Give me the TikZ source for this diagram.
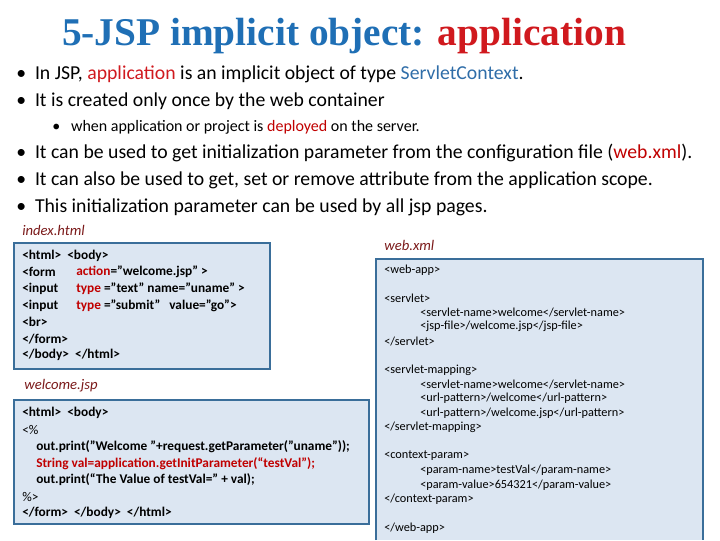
\documentclass[tikz,border=0pt]{standalone}
\usepackage{fontspec}
\setmainfont{Carlito}
\newfontfamily\titlefont{Liberation Serif}
\definecolor{tblue}{HTML}{1F6FB5}
\definecolor{tred}{HTML}{D0191E}
\definecolor{kred}{HTML}{C00000}
\definecolor{fname}{HTML}{7B1A1A}
\definecolor{boxfill}{HTML}{DCE6F2}
\definecolor{boxline}{HTML}{3A6E9A}
\definecolor{jblue}{HTML}{2F6DA8}
\tikzset{
  codebox/.style={draw=boxline, fill=boxfill, line width=0.9pt},
  bul/.style={anchor=west, inner sep=0pt, font=\fontsize{14.8}{16}\selectfont},
  sub/.style={anchor=west, inner sep=0pt, font=\fontsize{12}{13}\selectfont},
  code/.style={anchor=west, inner sep=0pt, font=\fontsize{10}{11}\selectfont},
  xml/.style={anchor=west, inner sep=0pt, font=\fontsize{9.2}{10}\selectfont},
  fn/.style={anchor=west, inner sep=0pt, text=fname, font=\fontsize{11}{12}\itshape},
}
\begin{document}
\begin{tikzpicture}[x=0.75pt,y=-0.75pt]
\useasboundingbox (0,0) rectangle (720,540);
\node[inner sep=0pt, font=\titlefont\bfseries\fontsize{29.5}{32}\selectfont] (title) at (344,36) {\textcolor{tblue}{5-JSP implicit object:} \textcolor{tred}{application}};
\node[bul] (b1) at (16,74) {\textbullet\ \ In JSP, \textcolor{tred}{application} is an implicit object of type \textcolor{jblue}{ServletContext}.};
\node[bul] (b2) at (16,101) {\textbullet\ \ It is created only once by the web container};
\node[sub] (s1) at (52,127) {\textbullet\ \ \ when application or project is \textcolor{kred}{deployed} on the server.};
\node[bul] (b3) at (16,153) {\textbullet\ \ It can be used to get initialization parameter from the configuration file (\textcolor{kred}{web.xml}).};
\node[bul] (b4) at (16,180) {\textbullet\ \ It can also be used to get, set or remove attribute from the application scope.};
\node[bul] (b5) at (16,207) {\textbullet\ \ This initialization parameter can be used by all jsp pages.};

\node[fn] (f1) at (22,230) {index.html};
\draw[codebox] (14,243) rectangle (270,369);
\node[code] (i1) at (22,256) {\textbf{<html>\ \ <body>}};
\node[code] (i2) at (22,272) {\textbf{<form}};
\node[code] (i2b) at (76,272) {\textbf{\textcolor{kred}{action}="welcome.jsp" >}};
\node[code] (i3) at (22,289) {\textbf{<input}};
\node[code] (i3b) at (76,289) {\textbf{\textcolor{kred}{type} ="text" name="uname" >}};
\node[code] (i4) at (22,306) {\textbf{<input}};
\node[code] (i4b) at (76,306) {\textbf{\textcolor{kred}{type} ="submit"\ \ \ value="go">}};
\node[code] (i5) at (22,322) {\textbf{<br>}};
\node[code] (i6) at (22,339) {\textbf{</form>}};
\node[code] (i7) at (22,355) {\textbf{</body>\ \ </html>}};

\node[fn] (f2) at (24,386) {welcome.jsp};
\draw[codebox] (14,400) rectangle (369,524);
\node[code] (w1) at (22,413) {\textbf{<html>\ \ <body>}};
\node[code] (w2) at (22,430) {<\%};
\node[code] (w3) at (36,447) {\textbf{out.print("Welcome "+request.getParameter("uname"));}};
\node[code] (w4) at (36,464) {\textbf{\textcolor{kred}{String val=application.getInitParameter(“testVal");}}};
\node[code] (w5) at (36,480) {\textbf{out.print(“The Value of testVal=" + val);}};
\node[code] (w6) at (22,497) {\%>};
\node[code] (w7) at (22,513) {\textbf{</form>\ \ </body>\ \ </html>}};

\node[fn] (f3) at (384,245) {web.xml};
\fill[boxfill] (376.5,259.5) rectangle (702.5,540);
\draw[draw=boxline, line width=0.9pt] (376,540) -- (376,259) -- (703,259) -- (703,540);
\node[xml] (x1) at (384,270) {<web-app>};
\node[xml] (x2) at (384,298) {<servlet>};
\node[xml] (x3) at (420,312) {<servlet-name>welcome</servlet-name>};
\node[xml] (x4) at (420,326) {<jsp-file>/welcome.jsp</jsp-file>};
\node[xml] (x5) at (384,341) {</servlet>};
\node[xml] (x6) at (384,370) {<servlet-mapping>};
\node[xml] (x7) at (420,384) {<servlet-name>welcome</servlet-name>};
\node[xml] (x8) at (420,398) {<url-pattern>/welcome</url-pattern>};
\node[xml] (x9) at (420,413) {<url-pattern>/welcome.jsp</url-pattern>};
\node[xml] (x10) at (384,427) {</servlet-mapping>};
\node[xml] (x11) at (384,456) {<context-param>};
\node[xml] (x12) at (420,470) {<param-name>testVal</param-name>};
\node[xml] (x13) at (420,485) {<param-value>654321</param-value>};
\node[xml] (x14) at (384,499) {</context-param>};
\node[xml] (x15) at (384,528) {</web-app>};
\end{tikzpicture}
\end{document}
